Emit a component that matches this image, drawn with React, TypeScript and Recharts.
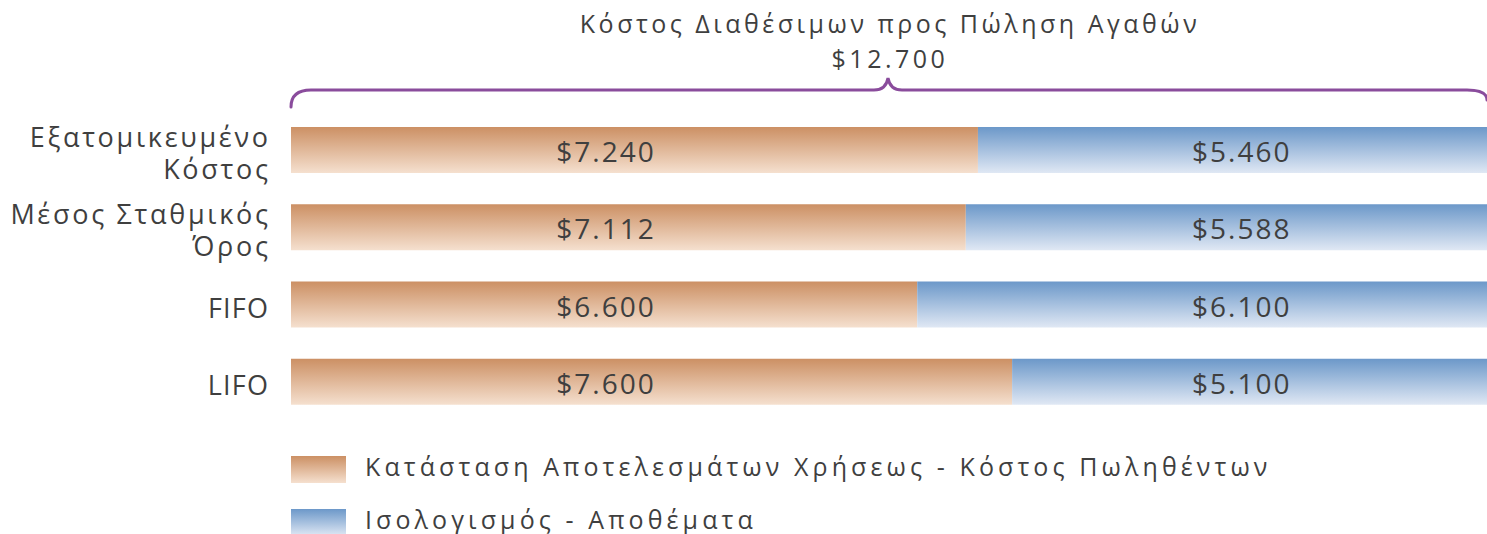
import React from 'react';
import { BarChart, Bar, XAxis, YAxis, LabelList, Customized } from 'recharts';

const categories = ['Εξατομικευμένο Κόστος', 'Μέσος Σταθμικός Όρος', 'FIFO', 'LIFO'];
const categoryLines = [['Εξατομικευμένο', 'Κόστος'], ['Μέσος Σταθμικός', 'Όρος'], ['FIFO'], ['LIFO']];
const cogsValues = [7240, 7112, 6600, 7600];
const inventoryValues = [5460, 5588, 6100, 5100];
const cogsLabels = ['$7.240', '$7.112', '$6.600', '$7.600'];
const inventoryLabels = ['$5.460', '$5.588', '$6.100', '$5.100'];
const seriesNames = ['Κατάσταση Αποτελεσμάτων Χρήσεως - Κόστος Πωληθέντων', 'Ισολογισμός - Αποθέματα'];
const titleLines = ['Κόστος Διαθέσιμων προς Πώληση Αγαθών', '$12.700'];
const totalValue = 12700;
const cogsLabelAt = 3320;
const inventoryLabelFromEnd = 2680;

const data = categories.map((c, i) => ({
  category: c,
  cogs: cogsValues[i],
  inventory: inventoryValues[i],
}));

const W = 1487;
const H = 534;
const CHART_W = 1496;
const M = { top: 111, right: 0, bottom: 114, left: 0 };
const Y_WIDTH = 291;
const FONT = '"Open Sans", "Noto Sans", sans-serif';
const TEXT = '#3f3f3f';
const PURPLE = '#8a4c9c';

const YTick = (props: any) => {
  const { x, y, index } = props;
  const lines = categoryLines[index] || [String(props.payload.value)];
  const lh = 32;
  const start = y + 3 - ((lines.length - 1) * lh) / 2;
  return (
    <g>
      {lines.map((l: string, i: number) => {
        const lower = /[a-zα-ωά-ώ]/.test(l);
        const ls = lower ? 2.7 : 1.2;
        return (
          <text key={i} x={x + ls} y={start + i * lh} textAnchor="end" dominantBaseline="central"
            fontFamily={FONT} fontSize={27} letterSpacing={ls} fill={TEXT}>{l}</text>
        );
      })}
    </g>
  );
};

const makeLabel = (labels: string[], isCogs: boolean) => (props: any) => {
  const { x, y, width, height, index, value } = props;
  const ppu = width / value;
  const cx = isCogs ? x + cogsLabelAt * ppu : x + width - inventoryLabelFromEnd * ppu;
  return (
    <text x={cx} y={y + height / 2 + 1} textAnchor="middle" dominantBaseline="central"
      fontFamily={FONT} fontSize={28} letterSpacing={2} fill={TEXT}>{labels[index]}</text>
  );
};

const Brace = () => {
  const l = Y_WIDTH;
  const r = W;
  const mid = 888;
  const yl = 90;
  const d = `M ${l} 107 Q ${l} ${yl} ${l + 20} ${yl} L ${mid - 14} ${yl} Q ${mid - 2} ${yl} ${mid} 78 Q ${mid + 2} ${yl} ${mid + 14} ${yl} L ${r - 20} ${yl} Q ${r} ${yl} ${r} 100`;
  return (
    <g>
      <path d={d} fill="none" stroke={PURPLE} strokeWidth={3} strokeLinecap="round" />
      <text x={mid + 2} y={23} textAnchor="middle" dominantBaseline="central" fontFamily={FONT} fontSize={25} letterSpacing={3.5} fill={TEXT}>{titleLines[0]}</text>
      <text x={mid + 2} y={58} textAnchor="middle" dominantBaseline="central" fontFamily={FONT} fontSize={25} letterSpacing={3.5} fill={TEXT}>{titleLines[1]}</text>
    </g>
  );
};

const LegendBlock = () => (
  <div style={{ position: 'absolute', left: 291, top: 456, fontFamily: FONT }}>
    {seriesNames.map((n, i) => (
      <div key={i} style={{ display: 'flex', alignItems: 'center', height: 27, marginBottom: i === 0 ? 26 : 0 }}>
        <div style={{ width: 55, height: 27, background: i === 0 ? 'linear-gradient(#cc9064, #f5e0cf)' : 'linear-gradient(#6c98c9, #e0e8f4)' }} />
        <span style={{ marginLeft: 19, fontSize: 25, letterSpacing: 4.1, color: TEXT, whiteSpace: 'nowrap', lineHeight: '27px', position: 'relative', top: -3 }}>{n}</span>
      </div>
    ))}
  </div>
);

export default function App() {
  return (
    <div style={{ position: 'absolute', left: 0, top: 0, width: W, height: H, background: '#fff', overflow: 'hidden' }}>
      <BarChart width={CHART_W} height={H} data={data} layout="vertical" margin={M} barSize={46}>
        <defs>
          <linearGradient id="gOrange" x1="0" y1="0" x2="0" y2="1">
            <stop offset="0%" stopColor="#cc9064" />
            <stop offset="100%" stopColor="#f5e0cf" />
          </linearGradient>
          <linearGradient id="gBlue" x1="0" y1="0" x2="0" y2="1">
            <stop offset="0%" stopColor="#6c98c9" />
            <stop offset="100%" stopColor="#e0e8f4" />
          </linearGradient>
        </defs>
        <XAxis type="number" domain={[0, totalValue]} hide />
        <YAxis type="category" dataKey="category" width={Y_WIDTH} axisLine={false} tickLine={false}
          tickMargin={17} tick={<YTick />} interval={0} />
        <Bar dataKey="cogs" stackId="a" fill="url(#gOrange)" isAnimationActive={false}>
          <LabelList dataKey="cogs" content={makeLabel(cogsLabels, true)} />
        </Bar>
        <Bar dataKey="inventory" stackId="a" fill="url(#gBlue)" isAnimationActive={false}>
          <LabelList dataKey="inventory" content={makeLabel(inventoryLabels, false)} />
        </Bar>
        <Customized component={<Brace />} />
      </BarChart>
      <LegendBlock />
    </div>
  );
}
